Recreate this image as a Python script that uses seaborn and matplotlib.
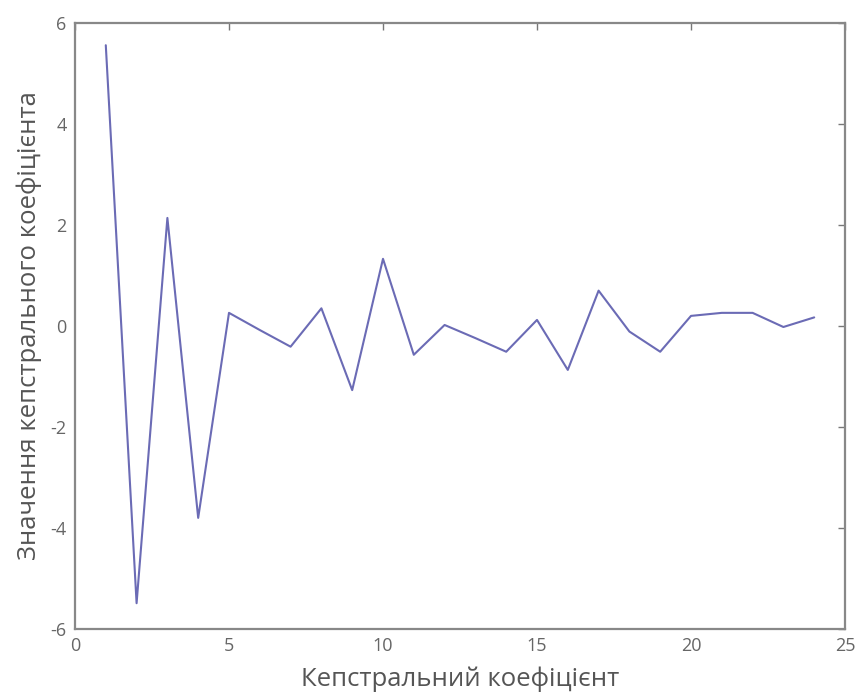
import matplotlib
matplotlib.use("Agg")
import matplotlib.pyplot as plt
import numpy as np
import pandas as pd
import seaborn as sns

# кепстральні коефіцієнти
coef_num = list(range(1, 25))
coef_val = [5.56, -5.49, 2.14, -3.8, 0.26, -0.08, -0.41, 0.35, -1.27, 1.33,
            -0.57, 0.02, -0.24, -0.51, 0.12, -0.87, 0.7, -0.11, -0.51, 0.2,
            0.26, 0.26, -0.02, 0.17]
x_ticks = [0, 5, 10, 15, 20, 25]
y_ticks = [-6, -4, -2, 0, 2, 4, 6]

df = pd.DataFrame({"n": coef_num, "c": coef_val})

sns.set_style("white")
plt.rcParams['font.family'] = ['Open Sans', 'DejaVu Sans']
plt.rcParams['axes.unicode_minus'] = False

fig = plt.figure(figsize=(8.57, 6.97), dpi=100)
ax = fig.add_axes([0.0875, 0.0976, 0.8985, 0.8694])
sns.lineplot(data=df, x="n", y="c", ax=ax, color="#6b6bb5", linewidth=1.5)

ax.set_xlim(0, 25)
ax.set_ylim(-6, 6)
ax.set_xticks(x_ticks)
ax.set_yticks(y_ticks)
ax.tick_params(direction="in", length=5, width=1, colors="#777777",
               labelcolor="#666666", labelsize=13, top=True, right=True, pad=6)
for s in ax.spines.values():
    s.set_color("#888888")
    s.set_linewidth(1.6)
ax.set_xlabel("Кепстральний коефіцієнт", fontsize=18.5, color="#555555", labelpad=8)
ax.set_ylabel("Значення кепстрального коефіцієнта", fontsize=18.5, color="#555555", labelpad=6)

plt.savefig("out.png", dpi=100)
